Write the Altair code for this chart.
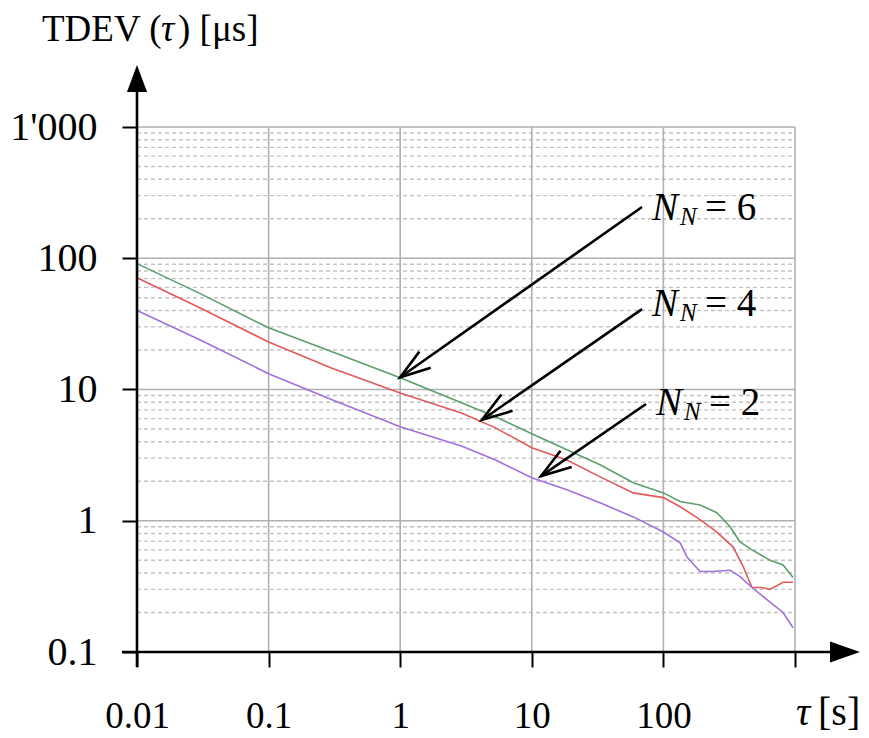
import math
import altair as alt
import pandas as pd

# ---------------- data ----------------
series_names = ["N_N = 6", "N_N = 4", "N_N = 2"]
series_colors = ["#5c9e6c", "#e2595a", "#a070dc"]

tau_n6 = [0.01, 0.03, 0.1, 0.3, 1, 2.95, 5.3, 10, 18.5, 33, 59, 100, 134, 190, 255, 321, 382, 471, 646, 811, 966]
tdev_n6 = [91, 54, 29.5, 19.5, 12.3, 7.9, 6.2, 4.6, 3.47, 2.67, 1.95, 1.63, 1.4, 1.32, 1.15, 0.9, 0.69, 0.6, 0.5, 0.46, 0.37]

tau_n4 = [0.01, 0.03, 0.1, 0.3, 1, 2.95, 5.3, 10, 18.5, 33, 59, 100, 134, 190, 255, 339, 403, 471, 560, 646, 811, 966]
tdev_n4 = [71, 42, 23, 14.6, 9.4, 6.6, 5.1, 3.6, 2.9, 2.16, 1.63, 1.5, 1.28, 1.02, 0.82, 0.63, 0.45, 0.31, 0.31, 0.30, 0.34, 0.34]

tau_n2 = [0.01, 0.03, 0.1, 0.3, 1, 2.95, 5.3, 10, 18.5, 33, 59, 100, 134, 151, 190, 238, 321, 382, 471, 646, 811, 966]
tdev_n2 = [40, 23.9, 13.2, 8.4, 5.2, 3.7, 2.9, 2.13, 1.72, 1.37, 1.07, 0.82, 0.68, 0.53, 0.41, 0.41, 0.42, 0.375, 0.31, 0.24, 0.2, 0.153]

x_ticks = [0.01, 0.1, 1, 10, 100, 1000]
x_tick_labels = ["0.01", "0.1", "1", "10", "100", ""]
y_ticks = [0.1, 1, 10, 100, 1000]
y_tick_labels = ["0.1", "1", "10", "100", "1'000"]

# annotation arrows: start (near label) -> tip (on curve), data units
arrow_start_tau = [68.8, 68.8, 73.8]
arrow_start_tdev = [245.7, 41.0, 7.75]
arrow_tip_tau = [1.0, 4.18, 11.75]
arrow_tip_tdev = [12.4, 5.86, 2.19]
arrow_numbers = ["6", "4", "2"]

# ---------------- layout ----------------
W, H = 658, 525
PAD = {"left": 137, "top": 127, "right": 74, "bottom": 86}
X_DOM = [0.01, 1000]
Y_DOM = [0.1, 1000]
FONT = "Liberation Serif"
px_dec_x = W / 5.0
px_dec_y = H / 4.0

xs = alt.Scale(type="log", domain=X_DOM, nice=False)
ys = alt.Scale(type="log", domain=Y_DOM, nice=False)

x_label_expr = "[" + ",".join("'%s'" % s for s in x_tick_labels) + "][indexof([" + ",".join(repr(v) for v in x_ticks) + "], datum.value)]"
y_label_expr = "[" + ",".join("'%s'" % s.replace("'", "\\'") for s in y_tick_labels) + "][indexof([" + ",".join(repr(v) for v in y_ticks) + "], datum.value)]"

X_AXIS = alt.Axis(
    values=x_ticks, labelExpr=x_label_expr, domain=False, grid=False, title=None,
    tickSize=15, tickColor="black", tickWidth=2, labelFont=FONT, labelFontSize=37,
    labelColor="black", labelPadding=31, labelFlush=False, labelOverlap=False)
Y_AXIS = alt.Axis(
    values=y_ticks, labelExpr=y_label_expr, domain=False, grid=False, title=None,
    tickSize=15, tickColor="black", tickWidth=2, labelFont=FONT, labelFontSize=40,
    labelColor="black", labelPadding=25, labelFlush=False, labelOverlap=False)

# ---------------- tables ----------------
rows = []
for name, ts, vs in zip(series_names, [tau_n6, tau_n4, tau_n2], [tdev_n6, tdev_n4, tdev_n2]):
    for t, v in zip(ts, vs):
        rows.append({"series": name, "tau": t, "tdev": v})
df_lines = pd.DataFrame(rows)

vgrid = pd.DataFrame({"x": x_ticks[1:], "y0": Y_DOM[0], "y1": Y_DOM[1]})
hgrid = pd.DataFrame({"y": y_ticks[1:], "x0": X_DOM[0], "x1": X_DOM[1]})
minor_vals = [m * 10 ** e for e in range(-1, 3) for m in range(2, 10)]
hminor = pd.DataFrame({"y": minor_vals, "x0": X_DOM[0], "x1": X_DOM[1]})

x_axis_left = 10 ** (math.log10(X_DOM[0]) - 15 / px_dec_x)
x_axis_tip = 10 ** (math.log10(X_DOM[1]) + 65 / px_dec_x)
y_axis_bottom = 10 ** (math.log10(Y_DOM[0]) - 15 / px_dec_y)
y_axis_tip = 10 ** (math.log10(Y_DOM[1]) + 62 / px_dec_y)

x_axis_df = pd.DataFrame({"x0": [x_axis_left], "x1": [10 ** (math.log10(x_axis_tip) - 20 / px_dec_x)], "y": [Y_DOM[0]]})
y_axis_df = pd.DataFrame({"y0": [y_axis_bottom], "y1": [10 ** (math.log10(y_axis_tip) - 20 / px_dec_y)], "x": [X_DOM[0]]})
x_head_df = pd.DataFrame({"x": [x_axis_tip], "y": [Y_DOM[0]]})
y_head_df = pd.DataFrame({"x": [X_DOM[0]], "y": [y_axis_tip]})

angles = []
for st, sv, tt, tv in zip(arrow_start_tau, arrow_start_tdev, arrow_tip_tau, arrow_tip_tdev):
    dx = (math.log10(tt) - math.log10(st)) * px_dec_x
    dy = -(math.log10(tv) - math.log10(sv)) * px_dec_y
    angles.append(math.degrees(math.atan2(dy, dx)) % 360)
arrows_df = pd.DataFrame({
    "x0": arrow_start_tau, "y0": arrow_start_tdev,
    "x1": arrow_tip_tau, "y1": arrow_tip_tdev, "ang": angles,
})

# ---------------- layers ----------------
def xenc(field):
    return alt.X(field, type="quantitative", scale=xs, axis=X_AXIS)

def yenc(field):
    return alt.Y(field, type="quantitative", scale=ys, axis=Y_AXIS)

minor_layer = alt.Chart(hminor).mark_rule(color="#c2c2c2", strokeWidth=1.4, strokeDash=[4, 3]).encode(
    x=xenc("x0"), x2="x1", y=yenc("y"))
hgrid_layer = alt.Chart(hgrid).mark_rule(color="#b0b0b0", strokeWidth=1.6).encode(
    x=xenc("x0"), x2="x1", y=yenc("y"))
vgrid_layer = alt.Chart(vgrid).mark_rule(color="#b0b0b0", strokeWidth=1.6).encode(
    x=xenc("x"), y=yenc("y0"), y2="y1")

lines_layer = alt.Chart(df_lines).mark_line(strokeWidth=1.6).encode(
    x=xenc("tau"), y=yenc("tdev"),
    color=alt.Color("series:N", scale=alt.Scale(domain=series_names, range=series_colors), legend=None),
)

x_axis_layer = alt.Chart(x_axis_df).mark_rule(color="black", strokeWidth=2.6).encode(
    x=xenc("x0"), x2="x1", y=yenc("y"))
y_axis_layer = alt.Chart(y_axis_df).mark_rule(color="black", strokeWidth=2.6).encode(
    y=yenc("y0"), y2="y1", x=xenc("x"))
x_head = alt.Chart(x_head_df).mark_point(
    shape="M0,0 L-2,-0.7 L-2,0.7 Z", size=900, filled=True, color="black", opacity=1).encode(
    x=xenc("x"), y=yenc("y"))
y_head = alt.Chart(y_head_df).mark_point(
    shape="M0,0 L-0.67,1.8 L0.67,1.8 Z", size=900, filled=True, color="black", opacity=1).encode(
    x=xenc("x"), y=yenc("y"))

arrow_lines = alt.Chart(arrows_df).mark_rule(color="black", strokeWidth=2.6).encode(
    x=xenc("x0"), y=yenc("y0"), x2="x1", y2="y1")
arrow_heads = alt.Chart(arrows_df).mark_point(
    shape="M-3.04,-0.99 L0,0 L-3.04,0.99", size=400, filled=False, color="black",
    strokeWidth=2.6, opacity=1).encode(
    x=xenc("x1"), y=yenc("y1"), angle=alt.Angle("ang:Q", scale=None))

# ---------------- text (pixel positions relative to the plot area) ----------------
def text_layer(s, px, py, size, italic=False):
    return alt.Chart(pd.DataFrame({"t": [s]})).mark_text(
        font=FONT, fontSize=size, fontStyle="italic" if italic else "normal",
        align="left", baseline="alphabetic", color="black").encode(
        x=alt.value(px - PAD["left"]), y=alt.value(py - PAD["top"]), text="t:N")

texts = [
    text_layer("TDEV (", 42, 41, 37),
    text_layer("τ", 161, 41, 37, True),
    text_layer(") [μs]", 178, 41, 37),
    text_layer("τ", 796, 725, 40, True),
    text_layer("[s]", 818, 725, 40),
]
label_x = [652, 652, 656]
label_base = [220, 316, 415]
for num, lx, lb in zip(arrow_numbers, label_x, label_base):
    texts.append(text_layer("N", lx, lb, 39, True))
    texts.append(text_layer("N", lx + 28, lb + 5, 25, True))
    texts.append(text_layer("= " + num, lx + 53, lb, 39))

chart = alt.layer(
    minor_layer, hgrid_layer, vgrid_layer, lines_layer,
    x_axis_layer, y_axis_layer, x_head, y_head, arrow_lines, arrow_heads, *texts
).properties(
    width=W, height=H, padding=PAD, autosize="none", background="white"
).configure_view(stroke=None)

chart.save("out.html", embed_options={"renderer": "svg", "actions": False})
